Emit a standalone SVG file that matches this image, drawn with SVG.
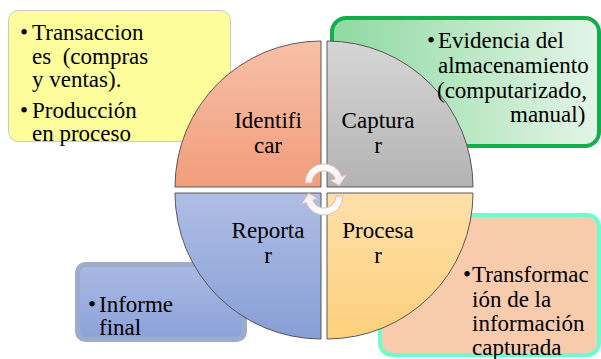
<svg xmlns="http://www.w3.org/2000/svg" width="601" height="359" viewBox="0 0 601 359" font-family="Liberation Serif, DejaVu Serif, Noto Serif, serif">
  <style>
    text { font-size: 23px; fill: #000; }
    .c { text-anchor: middle; }
    .q { stroke: #4a4a4a; stroke-width: 0.9; }
    .arr { fill: url(#gArr); stroke: #d8c2bd; stroke-width: 1; }
  </style>
  <defs>
    <linearGradient id="gId" x1="0" y1="0" x2="0" y2="1"><stop offset="0" stop-color="#f6c0a8"/><stop offset="1" stop-color="#f29d7b"/></linearGradient>
    <linearGradient id="gCap" x1="0" y1="0" x2="0" y2="1"><stop offset="0" stop-color="#d6d6d6"/><stop offset="1" stop-color="#b3b3b3"/></linearGradient>
    <linearGradient id="gRep" x1="0" y1="0" x2="0" y2="1"><stop offset="0" stop-color="#afbee4"/><stop offset="1" stop-color="#879ed6"/></linearGradient>
    <linearGradient id="gPro" x1="0" y1="0" x2="0" y2="1"><stop offset="0" stop-color="#fee0a9"/><stop offset="1" stop-color="#fcd07c"/></linearGradient>
    <linearGradient id="gGreen" x1="0" y1="0" x2="1" y2="0"><stop offset="0" stop-color="#8fd9a1"/><stop offset="1" stop-color="#e3f5e7"/></linearGradient>
    <linearGradient id="gBlue" x1="0" y1="0" x2="0" y2="1"><stop offset="0" stop-color="#aab9e3"/><stop offset="1" stop-color="#8ba2d9"/></linearGradient>
    <linearGradient id="gArr" x1="0" y1="0" x2="0" y2="1"><stop offset="0" stop-color="#ffffff"/><stop offset="1" stop-color="#f7eaea"/></linearGradient>
  </defs>
  <rect width="601" height="359" fill="#fff"/>

  <!-- side boxes: backgrounds -->
  <g id="box-entradas">
    <rect x="8.5" y="10.5" width="222" height="131" rx="10" fill="#fdfd9b" stroke="#c9c9c9" stroke-width="1"/>
  </g>
  <g id="box-evidencia">
    <rect x="332" y="18" width="267" height="128" rx="14" fill="url(#gGreen)" stroke="#12ae4c" stroke-width="4"/>
  </g>
  <g id="box-informe">
    <rect x="77.5" y="264.5" width="167" height="75" rx="8" fill="url(#gBlue)" stroke="#9eabcb" stroke-width="5"/>
  </g>
  <g id="box-transformacion">
    <rect x="380" y="215" width="219" height="140" rx="12" fill="#f8cbad" stroke="#6cfdcf" stroke-width="4"/>
  </g>

  <!-- cycle quadrants -->
  <g id="identificar">
    <path class="q" d="M321,187 L175,187 A146,146 0 0 1 321,41 Z" fill="url(#gId)"/>
    <text class="c" x="268" y="128">Identifi</text>
    <text class="c" x="268" y="153">car</text>
  </g>
  <g id="capturar">
    <path class="q" d="M327,187 L327,41 A146,146 0 0 1 473,187 Z" fill="url(#gCap)"/>
    <text class="c" x="378" y="128">Captura</text>
    <text class="c" x="378" y="153">r</text>
  </g>
  <g id="procesar">
    <path class="q" d="M327,193 L473,193 A146,146 0 0 1 327,339 Z" fill="url(#gPro)"/>
    <text class="c" x="378" y="238">Procesa</text>
    <text class="c" x="378" y="263">r</text>
  </g>
  <g id="reportar">
    <path class="q" d="M321,193 L321,339 A146,146 0 0 1 175,193 Z" fill="url(#gRep)"/>
    <text class="c" x="268" y="238">Reporta</text>
    <text class="c" x="268" y="263">r</text>
  </g>

  <!-- circular arrows in the centre -->
  <g id="connectors">
    <path id="arrow-top" class="arr" d="M305,183 A19,19 0 0 1 341.9,176.5 L346.6,174.8 L339.3,185.7 L330.6,180.6 L335.3,178.9 A12,12 0 0 0 312,183 Z"/>
    <path class="arr" transform="rotate(180 324 189.5)" d="M305,183 A19,19 0 0 1 341.9,176.5 L346.6,174.8 L339.3,185.7 L330.6,180.6 L335.3,178.9 A12,12 0 0 0 312,183 Z"/>
  </g>

  <!-- side box texts -->
  <g id="text-entradas">
    <text x="20" y="40">•</text>
    <text x="32" y="40">Transaccion</text>
    <text x="32" y="63.5" xml:space="preserve">es  (compras</text>
    <text x="32" y="87">y ventas).</text>
    <text x="20" y="118">•</text>
    <text x="32" y="118">Producción</text>
    <text x="32" y="141">en proceso</text>
  </g>
  <g id="text-evidencia">
    <text x="427" y="48">•</text>
    <text x="438" y="48">Evidencia del</text>
    <text x="438" y="73">almacenamiento</text>
    <text x="437" y="98">(computarizado,</text>
    <text x="510" y="122">manual)</text>
  </g>
  <g id="text-informe">
    <text x="88" y="312">•</text>
    <text x="99" y="312">Informe</text>
    <text x="99" y="335">final</text>
  </g>
  <g id="text-transformacion">
    <text x="463" y="282">•</text>
    <text x="472" y="282">Transformac</text>
    <text x="472" y="307">ión de la</text>
    <text x="472" y="331">información</text>
    <text x="472" y="355">capturada</text>
  </g>
</svg>
